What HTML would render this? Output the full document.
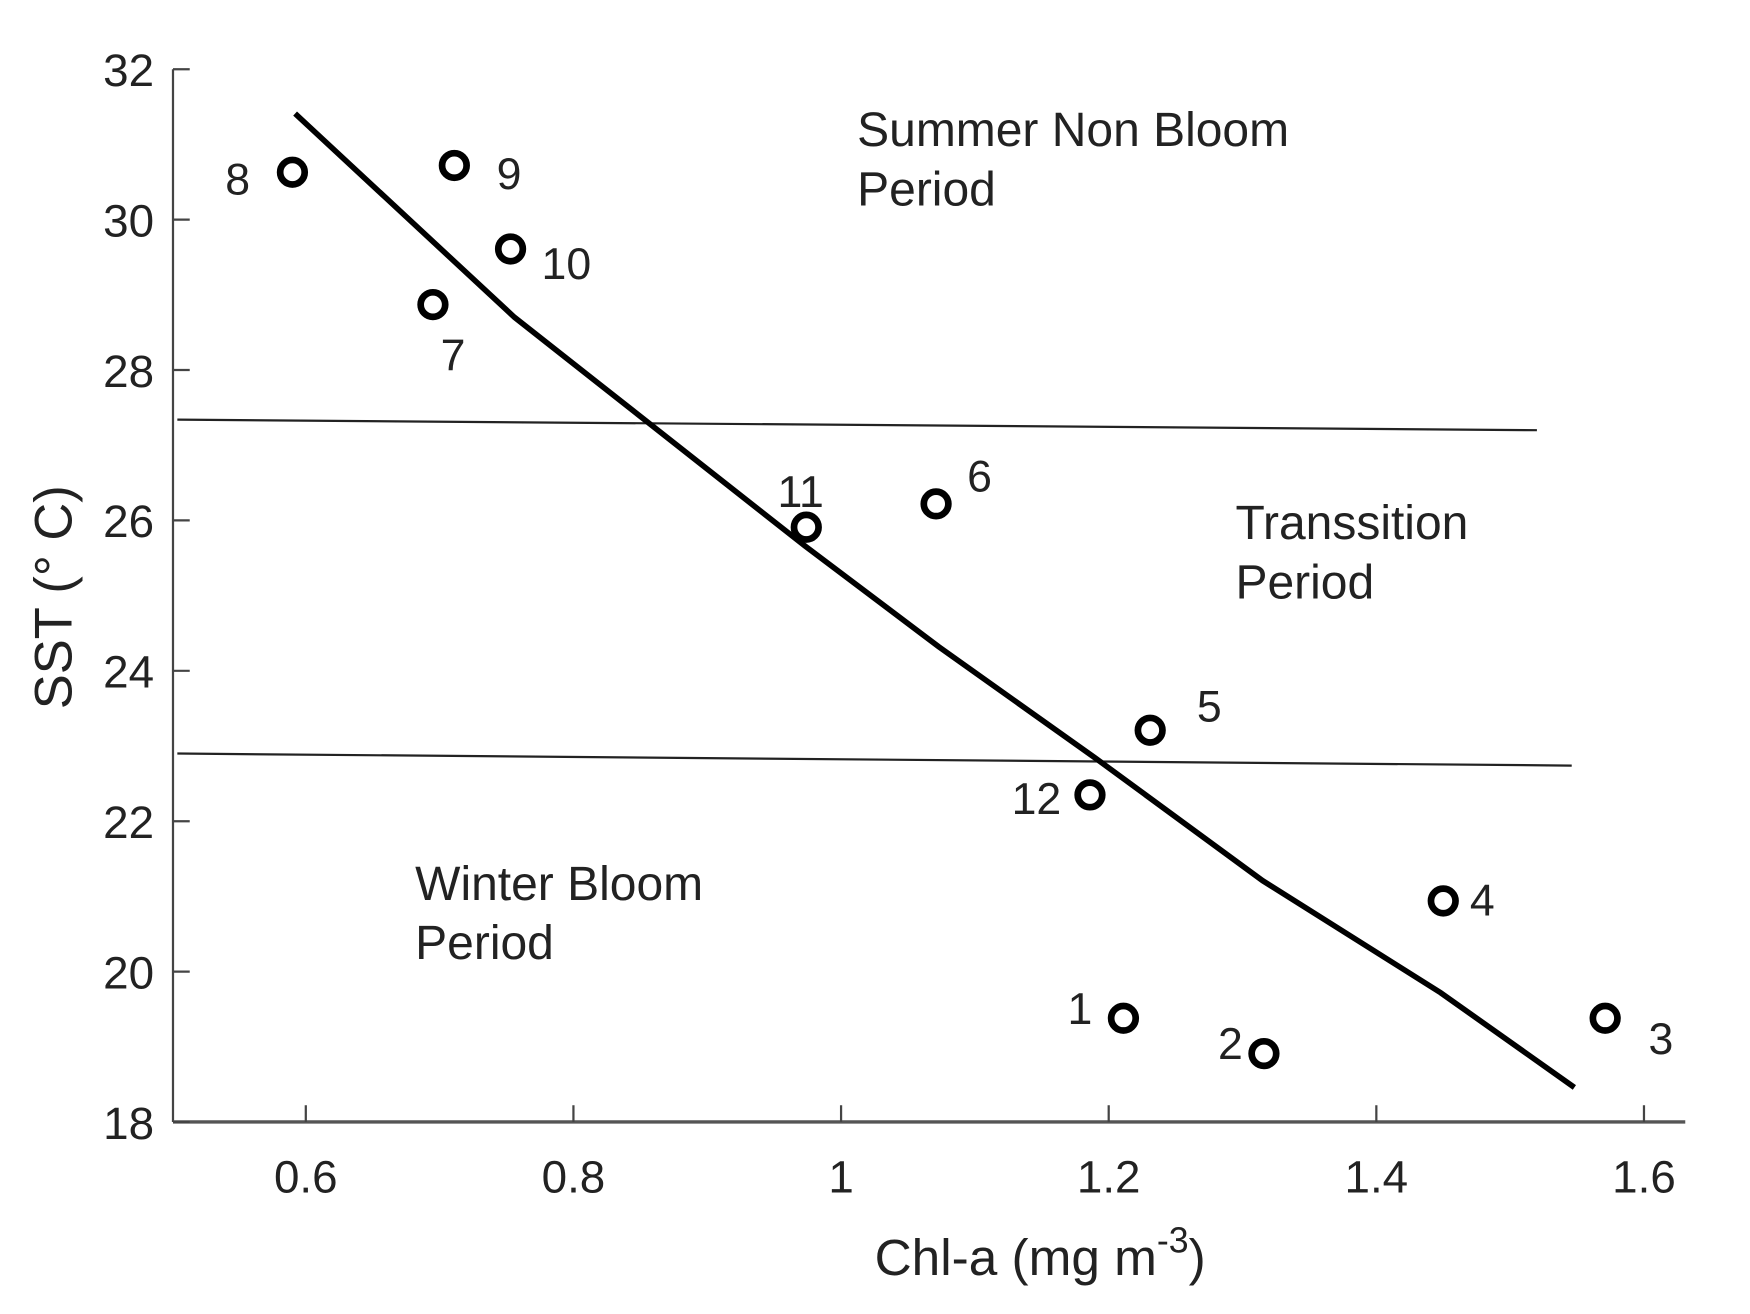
<!DOCTYPE html>
<html><head><meta charset="utf-8"><style>
html,body{margin:0;padding:0;background:#fff;}
svg{display:block;}
text{font-family:"Liberation Sans",Arial,sans-serif;fill:#222;}
</style></head><body>
<svg id="chart" width="1750" height="1314" viewBox="0 0 1568 1177" preserveAspectRatio="none" xmlns="http://www.w3.org/2000/svg">
<g id="axes"></g>
<g id="marks"></g>
</svg>
<script>
const xTicks=[0.6,0.8,1,1.2,1.4,1.6];
const yTicks=[18,20,22,24,26,28,30,32];
const monthLabels=["1","2","3","4","5","6","7","8","9","10","11","12"];
const chlValues=[1.211,1.316,1.571,1.450,1.231,1.071,0.695,0.590,0.711,0.753,0.974,1.186];
const sstValues=[19.38,18.91,19.38,20.94,23.21,26.22,28.87,30.63,30.72,29.61,25.91,22.35];
const fitX=[0.592,0.756,0.973,1.073,1.190,1.315,1.448,1.548];
const fitY=[31.41,28.70,25.66,24.32,22.84,21.21,19.72,18.46];
const boundaryX=[0.504,1.52];
const upperBoundaryY=[27.34,27.20];
const lowerBoundaryY=[22.90,22.74];
const boundaryX2=[0.504,1.546];

const NS="http://www.w3.org/2000/svg";
const X=v=>274+(v-0.6)*1199;
const Y=v=>62+(32-v)*67.36;
const axes=document.getElementById('axes'), marks=document.getElementById('marks');
function mk(tag,attrs,parent,txt){const e=document.createElementNS(NS,tag);for(const k in attrs)e.setAttribute(k,attrs[k]);if(txt!==undefined)e.textContent=txt;parent.appendChild(e);return e;}

let e;
e=mk('line',{x1:155,y1:62,x2:155,y2:1005,stroke:'#444','stroke-width':2},axes);


e=mk('line',{x1:155,y1:1005,x2:1510,y2:1005,stroke:'#555','stroke-width':3},axes);


yTicks.forEach(t=>{
  const y=Y(t);
  e=mk('line',{x1:155,y1:y,x2:170,y2:y,stroke:'#444','stroke-width':2},axes);
  
  
  e=mk('text',{x:138,y:y+15,'text-anchor':'end','font-size':41},axes,String(t));
  
  
});
xTicks.forEach(t=>{
  const x=X(t);
  e=mk('line',{x1:x,y1:1005,x2:x,y2:990,stroke:'#444','stroke-width':2},axes);
  
  
  e=mk('text',{x:x,y:1068,'text-anchor':'middle','font-size':41},axes,String(t));
  
  
});
e=mk('text',{x:0,y:0,'text-anchor':'middle','font-size':47,transform:'translate(64,535) rotate(-90)'},axes,'SST (° C)');


e=mk('text',{x:932,y:1142,'text-anchor':'middle','font-size':46},axes);


e.innerHTML='Chl-a (mg m<tspan dy="-20" font-size="32">-3</tspan><tspan dy="20">)</tspan>';

e=mk('line',{x1:X(boundaryX[0]),y1:Y(upperBoundaryY[0]),x2:X(boundaryX[1]),y2:Y(upperBoundaryY[1]),stroke:'#222','stroke-width':2},marks);


e=mk('line',{x1:X(boundaryX2[0]),y1:Y(lowerBoundaryY[0]),x2:X(boundaryX2[1]),y2:Y(lowerBoundaryY[1]),stroke:'#222','stroke-width':2},marks);



e=mk('polyline',{points:fitX.map((v,i)=>X(v)+','+Y(fitY[i])).join(' '),fill:'none',stroke:'#000','stroke-width':5},marks);



const labelOff=[[-39,-9],[-30,-9],[50,18],[35,-1],[53,-22],[39,-25],[18,45],[-49,6],[49,7],[50,13],[-5,-32],[-48,3]];
chlValues.forEach((v,i)=>{
  const cx=X(v), cy=Y(sstValues[i]);
  e=mk('circle',{cx:cx,cy:cy,r:11,fill:'#fff',stroke:'#000','stroke-width':6},marks);
  
  
  e=mk('text',{x:cx+labelOff[i][0],y:cy+labelOff[i][1]+14,'text-anchor':'middle','font-size':40},marks,monthLabels[i]);
  
  
});

const regions=[["summer-region-label",768,131,"Summer Non Bloom"],["summer-region-label-2",768,184,"Period"],["transition-region-label",1107,483,"Transsition"],["transition-region-label-2",1107,536,"Period"],["winter-region-label",372,806,"Winter Bloom"],["winter-region-label-2",372,859,"Period"]];
regions.forEach(r=>{
  e=mk('text',{x:r[1],y:r[2],'font-size':43},marks,r[3]);
  
  
});
</script>
</body></html>
